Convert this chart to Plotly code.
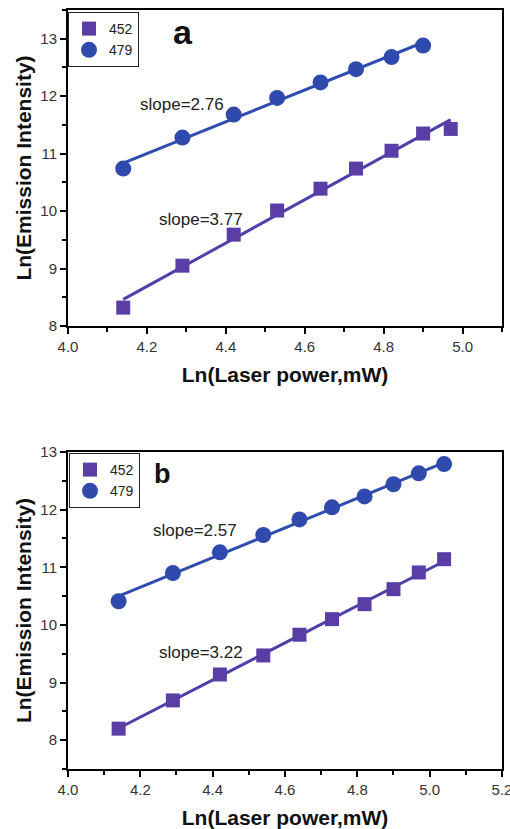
import numpy as np
import plotly.graph_objects as go

# Panel a: ln(laser power) vs ln(emission intensity)
a_x452 = [4.14, 4.29, 4.42, 4.53, 4.64, 4.73, 4.82, 4.90, 4.97]
a_y452 = [8.32, 9.05, 9.59, 10.01, 10.39, 10.74, 11.05, 11.35, 11.43]
a_x479 = [4.14, 4.29, 4.42, 4.53, 4.64, 4.73, 4.82, 4.90]
a_y479 = [10.74, 11.28, 11.68, 11.97, 12.24, 12.47, 12.68, 12.88]
a_slope452 = 3.77
a_slope479 = 2.76

# Panel b
b_x452 = [4.14, 4.29, 4.42, 4.54, 4.64, 4.73, 4.82, 4.90, 4.97, 5.04]
b_y452 = [8.20, 8.69, 9.14, 9.47, 9.83, 10.10, 10.36, 10.62, 10.91, 11.14]
b_x479 = [4.14, 4.29, 4.42, 4.54, 4.64, 4.73, 4.82, 4.90, 4.97, 5.04]
b_y479 = [10.41, 10.90, 11.26, 11.56, 11.83, 12.04, 12.23, 12.44, 12.63, 12.79]
b_slope452 = 3.22
b_slope479 = 2.57

SQ_COLOR = "#5a3ea6"
CI_COLOR = "#2f4aac"
SQ_LINE = "#4d40aa"
CI_LINE = "#2f4cb0"
FONT = "Liberation Sans, Arial, sans-serif"


def fit_line(xs, ys, slope):
    """Straight line of the given slope through the centroid of the points."""
    xs = np.asarray(xs, float)
    ys = np.asarray(ys, float)
    b = ys.mean() - slope * xs.mean()
    xl = np.array([xs.min(), xs.max()])
    return xl, slope * xl + b


fig = go.Figure()


def add_panel(xa, ya, legend, x452, y452, s452, x479, y479, s479):
    for xs, ys, s, col in ((x452, y452, s452, SQ_LINE), (x479, y479, s479, CI_LINE)):
        lx, ly = fit_line(xs, ys, s)
        fig.add_trace(go.Scatter(x=lx, y=ly, mode="lines", xaxis=xa, yaxis=ya,
                                 line=dict(color=col, width=3), showlegend=False,
                                 hoverinfo="skip"))
    fig.add_trace(go.Scatter(x=x452, y=y452, mode="markers", name="452",
                             xaxis=xa, yaxis=ya, legend=legend,
                             marker=dict(symbol="square", size=14, color=SQ_COLOR)))
    fig.add_trace(go.Scatter(x=x479, y=y479, mode="markers", name="479",
                             xaxis=xa, yaxis=ya, legend=legend,
                             marker=dict(symbol="circle", size=16, color=CI_COLOR)))


add_panel("x", "y", "legend", a_x452, a_y452, a_slope452, a_x479, a_y479, a_slope479)
add_panel("x2", "y2", "legend2", b_x452, b_y452, b_slope452, b_x479, b_y479, b_slope479)

W, H = 510, 829
left, right = 68, 502
top_a, bot_a = 10, 326
top_b, bot_b = 452, 769

tickfont = dict(family=FONT, size=15, color="#333")
titlefont = dict(family=FONT, size=21, color="#111", weight="bold")

common_x = dict(showgrid=False, zeroline=False, showline=True, linecolor="black",
                linewidth=2, mirror=True, ticks="outside", ticklen=6, tickwidth=2,
                tickcolor="black", tickformat=".1f", dtick=0.2, tick0=4.0,
                minor=dict(ticks="outside", ticklen=4, tickwidth=2, dtick=0.1,
                           tickcolor="black"),
                tickfont=tickfont, automargin=False, ticklabeloverflow="allow",
                title=dict(text="Ln(Laser power,mW)", font=titlefont, standoff=13))
common_y = dict(showgrid=False, zeroline=False, showline=True, linecolor="black",
                linewidth=2, mirror=True, ticks="outside", ticklen=6, tickwidth=2,
                tickcolor="black", dtick=1, tick0=8,
                minor=dict(ticks="outside", ticklen=4, tickwidth=2, dtick=0.5,
                           tickcolor="black"),
                tickfont=tickfont, automargin=False,
                title=dict(text="Ln(Emission Intensity)", font=titlefont, standoff=3))

legend_style = dict(xanchor="left", yanchor="top", bgcolor="white",
                    bordercolor="#222", borderwidth=1,
                    font=dict(family=FONT, size=14, color="#222"),
                    tracegroupgap=0, itemwidth=30)

fig.update_layout(
    width=W, height=H, template="none",
    paper_bgcolor="white", plot_bgcolor="white",
    margin=dict(l=0, r=0, t=0, b=0),
    font=dict(family=FONT, color="#222"),
    xaxis=dict(common_x, domain=[left / W, right / W], range=[4.0, 5.1], anchor="y"),
    yaxis=dict(common_y, domain=[1 - bot_a / H, 1 - top_a / H], range=[8, 13.5], anchor="x"),
    xaxis2=dict(common_x, domain=[left / W, right / W], range=[4.0, 5.2001], anchor="y2"),
    yaxis2=dict(common_y, domain=[1 - bot_b / H, 1 - top_b / H], range=[7.5, 13], anchor="x2"),
    legend=dict(legend_style, x=left / W, y=1 - 12 / H),
    legend2=dict(legend_style, x=(left + 1) / W, y=1 - 453 / H),
    showlegend=True,
)

slope_font = dict(family=FONT, size=17, color="#222")
annotations = [
    dict(text="slope=%.2f" % a_slope479, x=4.29, y=11.85, xref="x", yref="y",
         showarrow=False, font=slope_font),
    dict(text="slope=%.2f" % a_slope452, x=4.337, y=9.85, xref="x", yref="y",
         showarrow=False, font=slope_font),
    dict(text="slope=%.2f" % b_slope479, x=4.351, y=11.64, xref="x2", yref="y2",
         showarrow=False, font=slope_font),
    dict(text="slope=%.2f" % b_slope452, x=4.367, y=9.52, xref="x2", yref="y2",
         showarrow=False, font=slope_font),
    dict(text="<b>a</b>", x=183 / W, y=1 - 32 / H, xref="paper", yref="paper",
         xanchor="center", yanchor="middle", showarrow=False,
         font=dict(family=FONT, size=34, color="#111")),
    dict(text="<b>b</b>", x=162 / W, y=1 - 474 / H, xref="paper", yref="paper",
         xanchor="center", yanchor="middle", showarrow=False,
         font=dict(family=FONT, size=27, color="#111")),
]
fig.update_layout(annotations=annotations)

fig.write_html("out.html")
